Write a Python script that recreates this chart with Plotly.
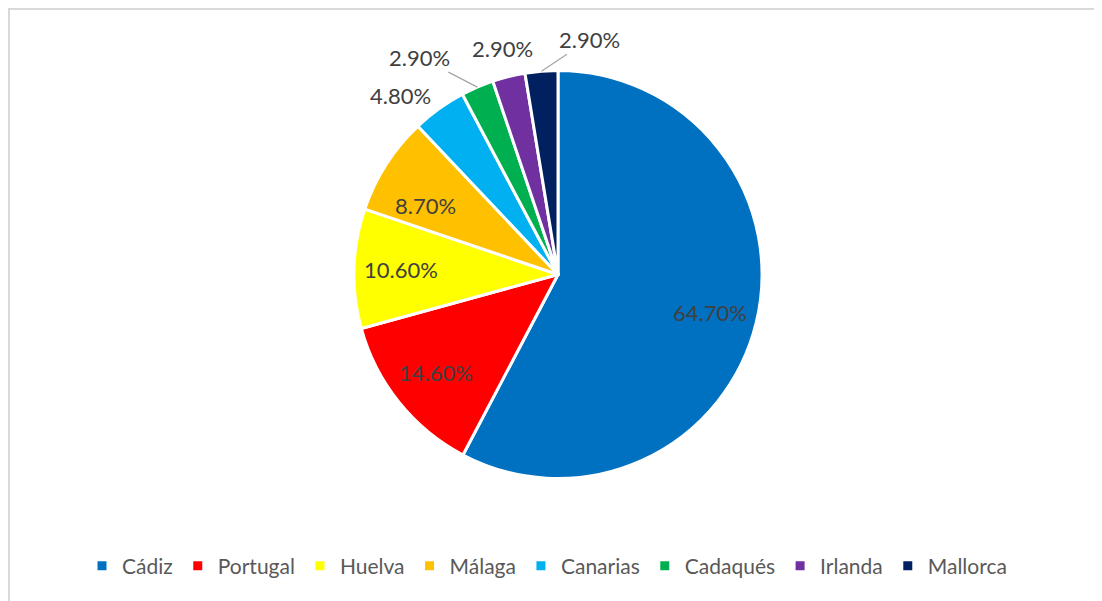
import math
import plotly.graph_objects as go

categories = ["Cádiz", "Portugal", "Huelva", "Málaga", "Canarias", "Cadaqués", "Irlanda", "Mallorca"]
values = [64.7, 14.6, 10.6, 8.7, 4.8, 2.9, 2.9, 2.9]
value_labels = ["64.70%", "14.60%", "10.60%", "8.70%", "4.80%", "2.90%", "2.90%", "2.90%"]
colors = ["#0070C0", "#FF0000", "#FFFF00", "#FFC000", "#00B0F0", "#00B050", "#7030A0", "#002060"]

# label placement style: None = inside, else (dx, dy, leader line?) offset in px from slice edge
label_style = [None, None, None, None, (-39, -13, False), (-58, -30, True), (-6, -28, False), (48, -32, True)]

W, H = 1102, 601
off = 8  # page body margin
cx, cy, r = 558 - off, 274.5 - off, 204

FONT = "Lato, Carlito, sans-serif"

fig = go.Figure(go.Pie(
    labels=categories,
    values=values,
    text=value_labels,
    textinfo="none",
    sort=False,
    direction="clockwise",
    rotation=0,
    marker=dict(colors=colors, line=dict(color="white", width=3)),
    domain=dict(x=[(cx - r) / W, (cx + r) / W], y=[1 - (cy + r) / H, 1 - (cy - r) / H]),
    showlegend=True,
    automargin=False,
    hoverinfo="label+text",
))

total = sum(values)
annotations = []
cum = 0.0
for v, lab, st in zip(values, value_labels, label_style):
    mid = (cum + v / 2) / total * 2 * math.pi
    cum += v
    if st is None:
        rr = 0.77 * r
        px, py = cx + rr * math.sin(mid), cy - rr * math.cos(mid)
        annotations.append(dict(x=px / W, y=1 - py / H, xref="paper", yref="paper",
                                text=lab, showarrow=False,
                                font=dict(family=FONT, size=22, color="#404040")))
    else:
        dx, dy, leader = st
        px, py = cx + r * math.sin(mid), cy - r * math.cos(mid)
        annotations.append(dict(x=px / W, y=1 - py / H, xref="paper", yref="paper",
                                text=lab, showarrow=True, ax=dx, ay=dy,
                                arrowhead=0, arrowwidth=1.3, standoff=0,
                                arrowcolor="#A6A6A6" if leader else "rgba(0,0,0,0)",
                                font=dict(family=FONT, size=22, color="#404040")))

fig.update_layout(
    width=W, height=H,
    margin=dict(l=0, r=0, t=0, b=0),
    paper_bgcolor="white",
    plot_bgcolor="white",
    annotations=annotations,
    legend=dict(
        orientation="h",
        x=0.5 - 12 / W, xanchor="center",
        y=1 - (566 - off) / H, yanchor="middle",
        font=dict(family=FONT, size=21, color="#595959"),
        itemwidth=30,
        traceorder="normal",
    ),
    shapes=[dict(type="rect", xref="paper", yref="paper",
                 x0=1 / W, x1=1.02, y0=-0.02, y1=1 - 1 / H,
                 line=dict(color="#D9D9D9", width=2), fillcolor="rgba(0,0,0,0)", layer="below")],
)

fig.write_html("out.html")
